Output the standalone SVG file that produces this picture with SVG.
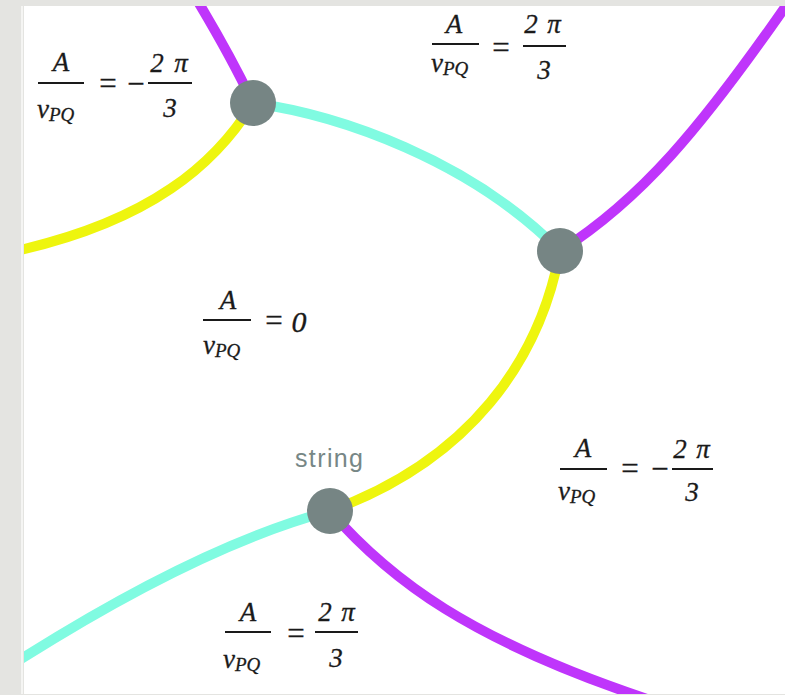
<svg xmlns="http://www.w3.org/2000/svg" width="785" height="695" viewBox="0 0 785 695">
<style>
.bg{fill:#e4e4e1}
.edge{fill:none;stroke-width:10;stroke-linecap:butt}
.mag{stroke:#bf35fb}
.cyn{stroke:#80fbe1}
.yel{stroke:#eef50e}
.node{fill:#768584}
.m{font-family:'Times New Roman','Liberation Serif','DejaVu Serif',serif;font-style:italic;fill:#1a1a1a;stroke:#1a1a1a;stroke-width:0.3}
.big{font-size:27px}
.sub{font-size:19px}
.op{font-family:'Times New Roman','Liberation Serif','DejaVu Serif',serif;font-size:31px;fill:#1a1a1a;stroke:#1a1a1a;stroke-width:0.3}
.bar{stroke:#1a1a1a;stroke-width:1.8}
.lbl{font-family:'Liberation Sans',Arial,sans-serif;font-size:25px;fill:#778786}
</style>
<defs>
<clipPath id="area"><rect x="24" y="6" width="761" height="688"/></clipPath>
</defs>
<rect class="bg" x="0" y="0" width="785" height="695"/>
<rect x="21" y="6" width="2" height="688" fill="#f5f5f3"/>
<rect x="24" y="6" width="761" height="688" fill="#ffffff"/>
<g id="connectors" clip-path="url(#area)">
<path class="edge mag" d="M197,0 C215,30 235,65 253,103"/>
<path class="edge yel" d="M253,103 C215,165 150,220 20,250"/>
<path class="edge cyn" d="M253,103 C340,115 470,160 560,251"/>
<path class="edge mag" d="M560,251 C640,200 700,130 790,0"/>
<path class="edge yel" d="M560,251 C540,360 470,460 330,511"/>
<path class="edge cyn" d="M330,511 C240,535 130,590 18,661"/>
<path class="edge mag" d="M330,511 C390,580 470,640 650,700"/>
</g>
<g id="node1"><circle class="node" cx="253" cy="103" r="23"/></g>
<g id="node2"><circle class="node" cx="560" cy="251" r="23"/></g>
<g id="node3"><circle class="node" cx="330" cy="511" r="23"/><text class="lbl" x="329" y="467" text-anchor="middle" textLength="68">string</text></g>
<g id="label1">
<text class="m big" x="61" y="71" text-anchor="middle">A</text>
<line class="bar" x1="38" y1="83" x2="84" y2="83"/>
<text class="m big" x="37" y="118">v<tspan class="sub" dy="3">PQ</tspan></text>
<text class="op" x="108" y="94" text-anchor="middle">=</text>
<text class="op" x="136" y="94" text-anchor="middle">−</text>
<line class="bar" x1="148" y1="83" x2="192" y2="83"/>
<text class="m big" x="157" y="72" text-anchor="middle">2</text>
<text class="m big" x="181" y="72" text-anchor="middle">π</text>
<text class="m big" x="170" y="117" text-anchor="middle">3</text>
</g>
<g id="label2">
<text class="m big" x="454" y="33" text-anchor="middle">A</text>
<line class="bar" x1="432" y1="44" x2="479" y2="44"/>
<text class="m big" x="431" y="72">v<tspan class="sub" dy="3">PQ</tspan></text>
<text class="op" x="501" y="58" text-anchor="middle">=</text>
<line class="bar" x1="523" y1="46" x2="566" y2="46"/>
<text class="m big" x="531" y="33" text-anchor="middle">2</text>
<text class="m big" x="554" y="33" text-anchor="middle">π</text>
<text class="m big" x="544" y="79" text-anchor="middle">3</text>
</g>
<g id="label3">
<text class="m big" x="228" y="309" text-anchor="middle">A</text>
<line class="bar" x1="203" y1="320" x2="251" y2="320"/>
<text class="m big" x="203" y="354">v<tspan class="sub" dy="3">PQ</tspan></text>
<text class="op" x="274" y="331" text-anchor="middle">=</text>
<text class="m" x="299" y="332" text-anchor="middle" font-size="30">0</text>
</g>
<g id="label4">
<text class="m big" x="583" y="457" text-anchor="middle">A</text>
<line class="bar" x1="560" y1="469" x2="607" y2="469"/>
<text class="m big" x="558" y="500">v<tspan class="sub" dy="3">PQ</tspan></text>
<text class="op" x="630" y="479" text-anchor="middle">=</text>
<text class="op" x="660" y="479" text-anchor="middle">−</text>
<line class="bar" x1="672" y1="469" x2="713" y2="469"/>
<text class="m big" x="680" y="458" text-anchor="middle">2</text>
<text class="m big" x="703" y="458" text-anchor="middle">π</text>
<text class="m big" x="692" y="501" text-anchor="middle">3</text>
</g>
<g id="label5">
<text class="m big" x="248" y="621" text-anchor="middle">A</text>
<line class="bar" x1="225" y1="632" x2="271" y2="632"/>
<text class="m big" x="223" y="668">v<tspan class="sub" dy="3">PQ</tspan></text>
<text class="op" x="296" y="644" text-anchor="middle">=</text>
<line class="bar" x1="315" y1="632" x2="358" y2="632"/>
<text class="m big" x="325" y="621" text-anchor="middle">2</text>
<text class="m big" x="348" y="621" text-anchor="middle">π</text>
<text class="m big" x="336" y="667" text-anchor="middle">3</text>
</g>
</svg>
